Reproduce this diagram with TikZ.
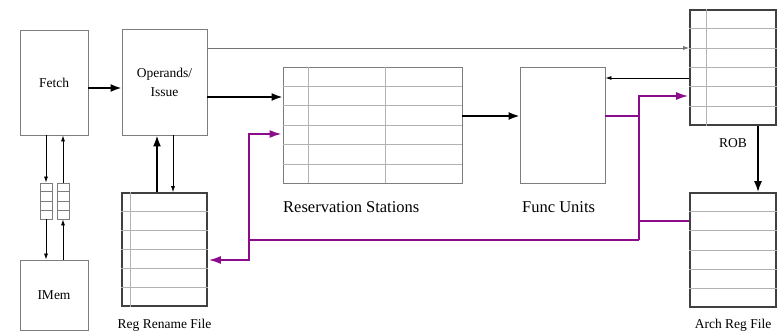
\documentclass[tikz,border=0pt]{standalone}
\usepackage{fontspec}
\setmainfont{Liberation Serif}
\definecolor{buspurple}{RGB}{140,10,140}
\definecolor{boxgray}{RGB}{125,125,125}
\usetikzlibrary{arrows.meta,positioning,calc}

\begin{document}
\begin{tikzpicture}[x=1pt,y=-1pt,
		unit/.style={draw=boxgray,line width=0.9pt,rectangle,inner sep=0pt,font=\fontsize{13.5}{19}\selectfont,align=center},
		regfile/.style={draw=black!75,line width=1.6pt,rectangle,inner sep=0pt},
		rowline/.style={draw=black!30,line width=0.9pt},
		smallarr/.style={-{Latex[length=6pt,width=4pt]},line width=0.8pt},
		bigarr/.style={-{Latex[length=11pt,width=8pt]},line width=1.8pt},
		bus/.style={buspurple,line width=1.8pt},
		busarr/.style={bus,-{Latex[length=12pt,width=8pt]},shorten >=1pt},
		lbl/.style={font=\fontsize{13.5}{15}\selectfont,inner sep=0pt},
		biglbl/.style={font=\fontsize{16.5}{18}\selectfont,inner sep=0pt}]
	\useasboundingbox (0,0) rectangle (783,334);
	% front end
	\node[unit,minimum width=68pt,minimum height=105pt] (fetch) at (54,82.5) {Fetch};
	\node[unit,minimum width=85pt,minimum height=106pt] (issue) at (164.5,82) {Operands/\\Issue};
	\node[unit,minimum width=68pt,minimum height=70pt] (imem) at (54,295) {IMem};
	\node[unit,minimum width=12pt,minimum height=36pt] (qdown) at (46,201) {};
	\node[unit,minimum width=12pt,minimum height=36pt] (qup) at (63,201) {};
	\foreach \q in {qdown,qup}
		\foreach \i in {1,2,3}
			\draw[rowline,draw=boxgray] ($(\q.north west)!\i/4!(\q.south west)$) -- ($(\q.north east)!\i/4!(\q.south east)$);
	% tables
	\node[regfile,minimum width=85pt,minimum height=113pt] (rrf) at (164.5,249.5) {};
	\node[unit,minimum width=179pt,minimum height=116pt] (rs) at (372.5,125) {};
	\node[unit,minimum width=85pt,minimum height=116pt] (fu) at (562.5,125) {};
	\node[regfile,minimum width=86pt,minimum height=115pt] (rob) at (733,67.5) {};
	\node[regfile,minimum width=86pt,minimum height=114pt] (arf) at (733,250) {};
	\foreach \t in {rrf,rs,rob,arf}
		\foreach \i in {1,...,5}
			\draw[rowline] ($(\t.north west)!\i/6!(\t.south west)$) -- ($(\t.north east)!\i/6!(\t.south east)$);
	\draw[rowline] ($(rrf.north west)!0.106!(rrf.north east)$) -- ($(rrf.south west)!0.106!(rrf.south east)$);
	\draw[rowline] ($(rob.north west)!0.2!(rob.north east)$) -- ($(rob.south west)!0.2!(rob.south east)$);
	\foreach \f in {0.145,0.57}
		\draw[rowline] ($(rs.north west)!\f!(rs.north east)$) -- ($(rs.south west)!\f!(rs.south east)$);
	% labels
	\node[lbl] (rrflbl) at (164.5,325) {Reg Rename File};
	\node[biglbl,anchor=west] (rslbl) at (283,207) {Reservation Stations};
	\node[biglbl,anchor=west] (fulbl) at (522,207) {Func Units};
	\node[lbl] (roblbl) at (733,143) {ROB};
	\node[lbl] (arflbl) at (733,325) {Arch Reg File};
	% black connectors
	\draw[bigarr] (fetch.east |- 0,88) -- (issue.west |- 0,88);
	\draw[smallarr] (fetch.south -| qdown) -- (qdown.north);
	\draw[smallarr] (qdown.south) -- (imem.north -| qdown);
	\draw[smallarr] (imem.north -| qup) -- (qup.south);
	\draw[smallarr] (qup.north) -- (fetch.south -| qup);
	\draw[smallarr,draw=black!55] (issue.east |- 0,48) -- (rob.west |- 0,48);
	\draw[bigarr] (issue.east |- 0,97) -- (rs.west |- 0,97);
	\draw[bigarr] (rrf.north -| 157,0) -- (issue.south -| 157,0);
	\draw[smallarr] (issue.south -| 173,0) -- (rrf.north -| 173,0);
	\draw[bigarr] (rs.east |- 0,116) -- (fu.west |- 0,116);
	\draw[smallarr] (rob.west |- 0,78) -- (fu.east |- 0,78);
	\draw[bigarr] (rob.south -| 758,0) -- (arf.north -| 758,0);
	% result bus
	\coordinate (rj) at (639,240);
	\coordinate (lj) at (249,240);
	\draw[bus] (fu.east |- 0,116) -- (rj |- 0,116);
	\draw[bus] (arf.west |- 0,221) -- (rj |- 0,221);
	\draw[busarr] (rj) -- (rj |- 0,96) -- (rob.west |- 0,96);
	\draw[bus] (rj) -- (lj);
	\draw[busarr] (lj) -- (lj |- 0,134) -- (rs.west |- 0,134);
	\draw[busarr] (lj) -- (lj |- 0,260) -- (rrf.east |- 0,260);
\end{tikzpicture}
\end{document}
